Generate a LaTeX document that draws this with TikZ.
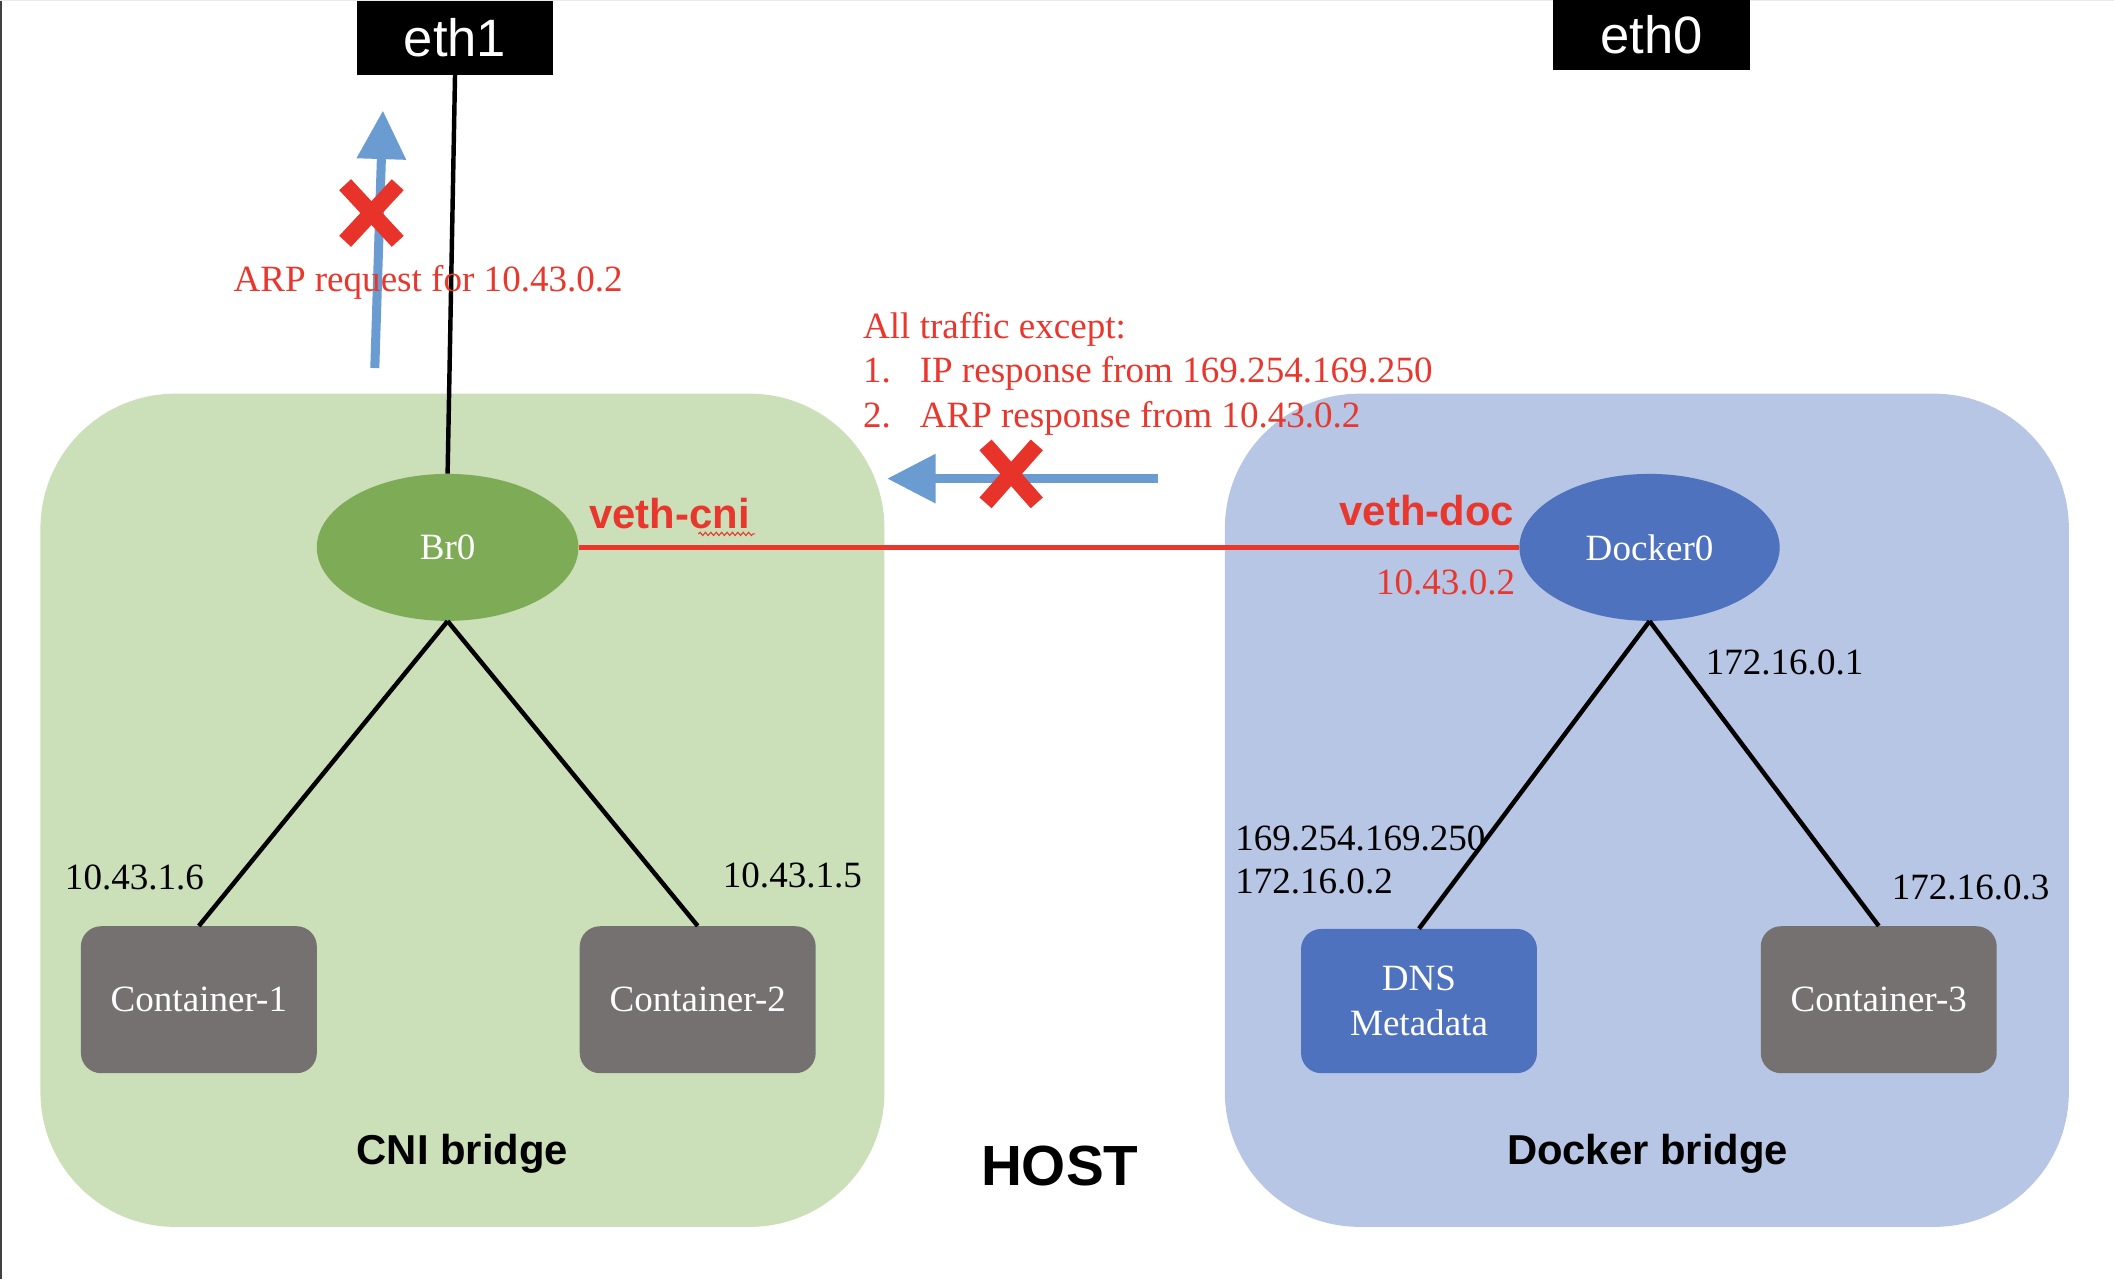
\documentclass[tikz,border=0pt]{standalone}
\usepackage{fontspec}
\setmainfont{Liberation Serif}
\setsansfont{Liberation Sans}
\usetikzlibrary{shapes.geometric,arrows.meta,decorations.pathmorphing}
\definecolor{cnigreen}{HTML}{CBDFB8}
\definecolor{brgreen}{HTML}{7EAB55}
\definecolor{dockblue}{HTML}{B7C6E4}
\definecolor{dzblue}{HTML}{4E72BE}
\definecolor{boxgray}{HTML}{767171}
\definecolor{xred}{HTML}{E8332A}
\definecolor{txtred}{HTML}{E8372D}
\definecolor{arrblue}{HTML}{6A9BD1}
\tikzset{
  bridgebox/.style={draw=none, rounded corners=100pt, minimum width=626pt, minimum height=618pt, inner sep=0pt},
  ethbox/.style={fill=black, text=white, inner sep=0pt, minimum width=146pt, minimum height=55pt, font=\sffamily\fontsize{39}{42}\selectfont},
  brellipse/.style={ellipse, inner sep=0pt, minimum width=194pt, minimum height=109pt, text=white, font=\fontsize{27.5}{32}\selectfont},
  ctbox/.style={rounded corners=15pt, inner sep=0pt, minimum width=175pt, minimum height=109pt, text=white, align=center, font=\fontsize{27.5}{33}\selectfont},
  iplabel/.style={anchor=base west, inner sep=0pt, font=\fontsize{27.5}{32}\selectfont},
  redtxt/.style={anchor=base west, inner sep=0pt, text=txtred, font=\fontsize{27.5}{32}\selectfont},
  vethlabel/.style={inner sep=0pt, text=txtred, font=\sffamily\bfseries\fontsize{31}{36}\selectfont},
  bridgelabel/.style={anchor=base, inner sep=0pt, font=\sffamily\bfseries\fontsize{31}{36}\selectfont},
  link/.style={line width=3.3pt, black},
  flowarrow/.style={arrblue, line width=6.7pt, -{Triangle[width=35pt,length=36pt]}},
  crossbar/.style={xred, line width=12pt},
}
\begin{document}
\begin{tikzpicture}[x=1pt,y=-1pt]
\useasboundingbox (0,0) rectangle (1568,949);
% frame edges of the screenshot
\draw[black!75, line width=1.5pt] (0.75,0) -- (0.75,949);
\draw[black!8, line width=1pt] (0,0.5) -- (1568,0.5);

% bridges
\node[bridgebox, fill=cnigreen] (cni) at (343,601) {};
\node[bridgebox, fill=dockblue] (dock) at (1221.5,601) {};

% interfaces
\node[ethbox] (eth1) at (337.5,28) {eth1};
\node[ethbox, minimum height=52pt] (eth0) at (1225,26) {eth0};

% bridge devices
\node[brellipse, fill=brgreen] (br0) at (332,406) {Br0};
\node[brellipse, fill=dzblue, minimum width=193pt] (docker0) at (1223.5,406) {Docker0};

% containers
\node[ctbox, fill=boxgray] (c1) at (147.5,741.5) {Container-1};
\node[ctbox, fill=boxgray] (c2) at (517.5,741.5) {Container-2};
\node[ctbox, fill=dzblue, minimum height=107pt] (dns) at (1052.5,742.5) {DNS\\Metadata};
\node[ctbox, fill=boxgray] (c3) at (1393.5,741.5) {Container-3};

% links
\draw[link] (eth1.south) -- (br0.north);
\draw[link] (br0.south) -- (c1.north);
\draw[link] (br0.south) -- (c2.north);
\draw[link] (docker0.south) -- (dns.north);
\draw[link] (docker0.south) -- (c3.north);
\draw[txtred, line width=3.5pt] (br0.east) -- (docker0.west);

% veth labels
\node[vethlabel, anchor=base west] (vcni) at (437,392) {veth-cni};
\draw[txtred, line width=0.8pt, decorate, decoration={snake, amplitude=1.2pt, segment length=4pt}] (518,396) -- (560,396);
\node[vethlabel, anchor=base east] (vdoc) at (1123,390) {veth-doc};
\node[redtxt, anchor=base east] (vip) at (1124,441) {10.43.0.2};

% ip labels
\node[iplabel] (ip1) at (48,660) {10.43.1.6};
\node[iplabel] (ip2) at (536,658) {10.43.1.5};
\node[iplabel] (ipd1) at (1265,500) {172.16.0.1};
\node[iplabel] (ipdns1) at (916,631) {169.254.169.250};
\node[iplabel] (ipdns2) at (916,663) {172.16.0.2};
\node[iplabel] (ipc3) at (1403,667) {172.16.0.3};

% bridge labels
\node[bridgelabel] (lcni) at (343,864) {CNI bridge};
\node[bridgelabel] (ldock) at (1222,864) {Docker bridge};
\node[bridgelabel, font=\sffamily\bfseries\fontsize{42}{46}\selectfont] (lhost) at (786,879) {HOST};

% blocked ARP request upward
\coordinate (upstart) at (278,273);
\coordinate (uptip) at (284,82);
\draw[flowarrow] (upstart) -- (uptip);
\draw[crossbar] (256,137) -- (295,179);
\draw[crossbar] (295,137) -- (256,179);
\node[redtxt] (arp) at (173,216) {ARP request for 10.43.0.2};

% blocked traffic leftward
\coordinate (lstart) at (859,355);
\coordinate (ltip) at (658,355);
\draw[flowarrow] (lstart) -- (ltip);
\draw[crossbar] (731,330) -- (769,373);
\draw[crossbar] (769,330) -- (731,373);

\node[redtxt] (exc) at (640,251) {All traffic except:};
\node[redtxt] (n1) at (640,284) {1.};
\node[redtxt] (e1) at (682,284) {IP response from 169.254.169.250};
\node[redtxt] (n2) at (640,317) {2.};
\node[redtxt] (e2) at (682,317) {ARP response from 10.43.0.2};
\end{tikzpicture}
\end{document}
